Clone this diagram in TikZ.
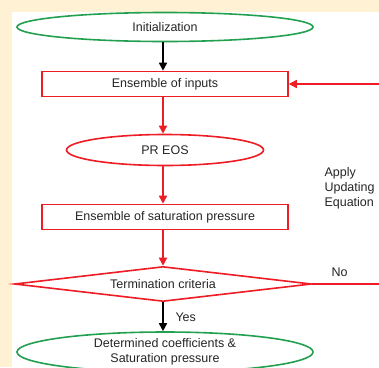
\documentclass[tikz,border=0pt]{standalone}
\usepackage{fontspec}
\setmainfont{Liberation Sans}
\usetikzlibrary{shapes.geometric,arrows.meta}
\definecolor{cream}{HTML}{FFF2D4}
\definecolor{fgreen}{HTML}{22A050}
\definecolor{fred}{HTML}{EE1C24}
\begin{document}
\begin{tikzpicture}[x=1pt,y=-1pt,
  every node/.style={font=\fontsize{12.5}{15}\selectfont, text=black!85},
  gell/.style={draw=fgreen, line width=1.6pt, ellipse, minimum width=296pt, minimum height=29pt, inner sep=0pt},
  rell/.style={draw=fred, line width=1.6pt, ellipse, minimum width=197pt, minimum height=31pt, inner sep=0pt},
  rbox/.style={draw=fred, line width=1.6pt, rectangle, minimum width=246pt, minimum height=25pt, inner sep=0pt},
  rdia/.style={draw=fred, line width=1.6pt, diamond, aspect=8.5, minimum width=297pt, minimum height=35pt, inner sep=0pt},
  rarr/.style={draw=fred, line width=1.6pt, -{Triangle[length=8pt,width=8pt]}},
  barr/.style={draw=black, line width=1.6pt, -{Triangle[length=8pt,width=8pt]}},
  rline/.style={draw=fred, line width=1.6pt}]
\useasboundingbox (0,0) rectangle (379,367);
\fill[cream] (0,0) rectangle (379,367);
\fill[white] (12,12) rectangle (379,367);
\begin{scope}
\clip (0,0) rectangle (379,367);
\node[gell] (init) at (165,27) {Initialization};
\node[rbox] (inputs) at (165,84) {Ensemble of inputs};
\node[rell] (eos) at (165,150) {PR EOS};
\node[rbox] (sat) at (165,217) {Ensemble of saturation pressure};
\node[rdia] (term) at (163,284) {Termination criteria};
\node[gell, minimum height=40pt, align=center, font=\fontsize{12.5}{14.5}\selectfont] (final) at (165,352) {Determined coefficients \&\\Saturation pressure};
\coordinate (c1) at (390,284);
\coordinate (c2) at (390,84);
\draw[barr] (init.south -| term.north) -- (inputs.north -| term.north);
\draw[rarr] (inputs.south -| term.north) -- (eos.north -| term.north);
\draw[rarr] (eos.south -| term.north) -- (sat.north -| term.north);
\draw[rarr] (sat.south -| term.north) -- (term.north);
\draw[barr] (term.south) -- (final.north -| term.south);
\draw[rline, rarr] (term.east) -- (c1) -- (c2) -- (inputs.east);
\node[anchor=west] (yes) at (172,317) {Yes};
\node[anchor=west] (no) at (328,272) {No};
\node[anchor=north west, align=left, font=\fontsize{12.5}{15}\selectfont] (apply) at (321,164) {Apply\\Updating\\Equation};
\end{scope}
\end{tikzpicture}
\end{document}
